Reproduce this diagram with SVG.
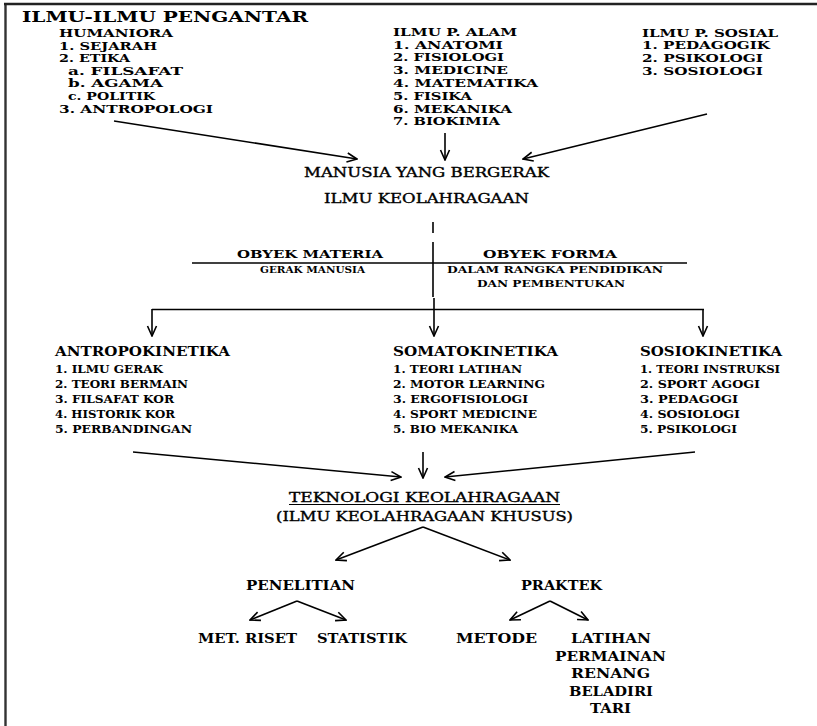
<svg xmlns="http://www.w3.org/2000/svg" width="817" height="726" viewBox="0 0 817 726">
  <style>
    text { font-family: "DejaVu Serif", "Liberation Serif", serif; fill: #000; }
    .b { font-weight: bold; }
    .m { font-weight: normal; stroke: #000; stroke-width: 0.35; }
    .t { font-size: 15px; }
    .k { font-size: 11.2px; }
    .l { font-size: 12px; }
    .h { font-size: 13px; }
    .s { font-size: 10.5px; }
    .xs { font-size: 9.5px; }
    .ln { stroke: #000; fill: none; stroke-width: 1.6; }
    .arr { stroke: #000; fill: none; stroke-width: 1.6; marker-end: url(#ah); }
  </style>
  <defs>
    <marker id="ah" viewBox="0 0 12 12" refX="11" refY="6" markerWidth="12" markerHeight="12" orient="auto" markerUnits="userSpaceOnUse">
      <path d="M1,1.5 L11,6 L1,10.5" fill="none" stroke="#000" stroke-width="1.6"/>
    </marker>
  </defs>

  <rect width="817" height="726" fill="#fff"/>

  <!-- page frame: left and top rules -->
  <g id="frame">
    <line x1="5.5" y1="3" x2="5.5" y2="726" stroke="#333" stroke-width="2.4"/>
    <line x1="4" y1="4" x2="817" y2="4" stroke="#222" stroke-width="2.6"/>
  </g>

  <g id="title">
    <text class="b t" x="22" y="22" textLength="286" lengthAdjust="spacingAndGlyphs">ILMU-ILMU PENGANTAR</text>
  </g>

  <g id="humaniora">
    <text class="b k" x="59" y="37" textLength="114" lengthAdjust="spacingAndGlyphs">HUMANIORA</text>
    <text class="b k" x="59" y="49.5" textLength="98" lengthAdjust="spacingAndGlyphs">1. SEJARAH</text>
    <text class="b k" x="59" y="62" textLength="71" lengthAdjust="spacingAndGlyphs">2. ETIKA</text>
    <text class="b k" x="68" y="74.5" textLength="115" lengthAdjust="spacingAndGlyphs">a. FILSAFAT</text>
    <text class="b k" x="68" y="87" textLength="95" lengthAdjust="spacingAndGlyphs">b. AGAMA</text>
    <text class="b k" x="68" y="99.5" textLength="87" lengthAdjust="spacingAndGlyphs">c. POLITIK</text>
    <text class="b k" x="59" y="113" textLength="154" lengthAdjust="spacingAndGlyphs">3. ANTROPOLOGI</text>
  </g>

  <g id="ilmu-alam">
    <text class="b k" x="393" y="36" textLength="124" lengthAdjust="spacingAndGlyphs">ILMU P. ALAM</text>
    <text class="b k" x="393" y="48.5" textLength="110" lengthAdjust="spacingAndGlyphs">1. ANATOMI</text>
    <text class="b k" x="393" y="61" textLength="111" lengthAdjust="spacingAndGlyphs">2. FISIOLOGI</text>
    <text class="b k" x="393" y="74" textLength="115" lengthAdjust="spacingAndGlyphs">3. MEDICINE</text>
    <text class="b k" x="393" y="87" textLength="145" lengthAdjust="spacingAndGlyphs">4. MATEMATIKA</text>
    <text class="b k" x="393" y="100" textLength="79" lengthAdjust="spacingAndGlyphs">5. FISIKA</text>
    <text class="b k" x="393" y="112.5" textLength="119" lengthAdjust="spacingAndGlyphs">6. MEKANIKA</text>
    <text class="b k" x="393" y="125" textLength="107" lengthAdjust="spacingAndGlyphs">7. BIOKIMIA</text>
  </g>

  <g id="ilmu-sosial">
    <text class="b k" x="642" y="36.5" textLength="136" lengthAdjust="spacingAndGlyphs">ILMU P. SOSIAL</text>
    <text class="b k" x="642" y="49" textLength="128" lengthAdjust="spacingAndGlyphs">1. PEDAGOGIK</text>
    <text class="b k" x="642" y="62" textLength="121" lengthAdjust="spacingAndGlyphs">2. PSIKOLOGI</text>
    <text class="b k" x="642" y="74.5" textLength="121" lengthAdjust="spacingAndGlyphs">3. SOSIOLOGI</text>
  </g>

  <g id="manusia">
    <text class="m l" x="304" y="177" textLength="245" lengthAdjust="spacingAndGlyphs">MANUSIA YANG BERGERAK</text>
  </g>

  <g id="ilmu-keolahragaan">
    <text class="m l" x="324" y="203" textLength="205" lengthAdjust="spacingAndGlyphs">ILMU KEOLAHRAGAAN</text>
  </g>

  <g id="obyek-materia">
    <text class="b s" x="237" y="258" textLength="146" lengthAdjust="spacingAndGlyphs">OBYEK MATERIA</text>
    <text class="b xs" x="260" y="272.5" textLength="105" lengthAdjust="spacingAndGlyphs">GERAK MANUSIA</text>
  </g>

  <g id="obyek-forma">
    <text class="b s" x="483" y="258" textLength="134" lengthAdjust="spacingAndGlyphs">OBYEK FORMA</text>
    <text class="b xs" x="447" y="272.5" textLength="216" lengthAdjust="spacingAndGlyphs">DALAM RANGKA PENDIDIKAN</text>
    <text class="b xs" x="477" y="287" textLength="148" lengthAdjust="spacingAndGlyphs">DAN PEMBENTUKAN</text>
  </g>

  <g id="antropokinetika">
    <text class="b h" x="55" y="356" textLength="175" lengthAdjust="spacingAndGlyphs">ANTROPOKINETIKA</text>
    <text class="b s" x="55" y="372.5" textLength="108" lengthAdjust="spacingAndGlyphs">1. ILMU GERAK</text>
    <text class="b s" x="55" y="387.5" textLength="133" lengthAdjust="spacingAndGlyphs">2. TEORI BERMAIN</text>
    <text class="b s" x="55" y="402.5" textLength="119" lengthAdjust="spacingAndGlyphs">3. FILSAFAT KOR</text>
    <text class="b s" x="55" y="417.5" textLength="120" lengthAdjust="spacingAndGlyphs">4. HISTORIK KOR</text>
    <text class="b s" x="55" y="433" textLength="137" lengthAdjust="spacingAndGlyphs">5. PERBANDINGAN</text>
  </g>

  <g id="somatokinetika">
    <text class="b h" x="393" y="356" textLength="165" lengthAdjust="spacingAndGlyphs">SOMATOKINETIKA</text>
    <text class="b s" x="393" y="372.5" textLength="129" lengthAdjust="spacingAndGlyphs">1. TEORI LATIHAN</text>
    <text class="b s" x="393" y="387.5" textLength="152" lengthAdjust="spacingAndGlyphs">2. MOTOR LEARNING</text>
    <text class="b s" x="393" y="402.5" textLength="135" lengthAdjust="spacingAndGlyphs">3. ERGOFISIOLOGI</text>
    <text class="b s" x="393" y="417.5" textLength="144" lengthAdjust="spacingAndGlyphs">4. SPORT MEDICINE</text>
    <text class="b s" x="393" y="433" textLength="125" lengthAdjust="spacingAndGlyphs">5. BIO MEKANIKA</text>
  </g>

  <g id="sosiokinetika">
    <text class="b h" x="640" y="356" textLength="142" lengthAdjust="spacingAndGlyphs">SOSIOKINETIKA</text>
    <text class="b s" x="640" y="372.5" textLength="140" lengthAdjust="spacingAndGlyphs">1. TEORI INSTRUKSI</text>
    <text class="b s" x="640" y="387.5" textLength="120" lengthAdjust="spacingAndGlyphs">2. SPORT AGOGI</text>
    <text class="b s" x="640" y="402.5" textLength="98" lengthAdjust="spacingAndGlyphs">3. PEDAGOGI</text>
    <text class="b s" x="640" y="417.5" textLength="100" lengthAdjust="spacingAndGlyphs">4. SOSIOLOGI</text>
    <text class="b s" x="640" y="433" textLength="97" lengthAdjust="spacingAndGlyphs">5. PSIKOLOGI</text>
  </g>

  <g id="teknologi">
    <text class="m l" x="289" y="502" textLength="271" lengthAdjust="spacingAndGlyphs">TEKNOLOGI KEOLAHRAGAAN</text>
    <line x1="289" y1="504.5" x2="560" y2="504.5" stroke="#000" stroke-width="1"/>
    <text class="m l" x="276" y="521" textLength="297" lengthAdjust="spacingAndGlyphs">(ILMU KEOLAHRAGAAN KHUSUS)</text>
  </g>

  <g id="penelitian">
    <text class="b l" x="246" y="590" textLength="109" lengthAdjust="spacingAndGlyphs">PENELITIAN</text>
  </g>
  <g id="praktek">
    <text class="b l" x="521" y="590" textLength="81" lengthAdjust="spacingAndGlyphs">PRAKTEK</text>
  </g>
  <g id="met-riset">
    <text class="b h" x="198" y="643" textLength="99" lengthAdjust="spacingAndGlyphs">MET. RISET</text>
  </g>
  <g id="statistik">
    <text class="b h" x="317" y="643" textLength="90" lengthAdjust="spacingAndGlyphs">STATISTIK</text>
  </g>
  <g id="metode">
    <text class="b h" x="456" y="643" textLength="81" lengthAdjust="spacingAndGlyphs">METODE</text>
  </g>
  <g id="latihan">
    <text class="b h" x="571" y="643" textLength="80" lengthAdjust="spacingAndGlyphs">LATIHAN</text>
    <text class="b h" x="555" y="660.5" textLength="111" lengthAdjust="spacingAndGlyphs">PERMAINAN</text>
    <text class="b h" x="571" y="678" textLength="79" lengthAdjust="spacingAndGlyphs">RENANG</text>
    <text class="b h" x="569" y="695.5" textLength="84" lengthAdjust="spacingAndGlyphs">BELADIRI</text>
    <text class="b h" x="590" y="713" textLength="41" lengthAdjust="spacingAndGlyphs">TARI</text>
  </g>

  <g id="connectors">
    <!-- into MANUSIA YANG BERGERAK -->
    <line class="arr" x1="114" y1="121" x2="357" y2="159"/>
    <line class="arr" x1="445" y1="133" x2="445" y2="160"/>
    <line class="arr" x1="707" y1="114" x2="523" y2="159"/>
    <!-- dashed divider between the two objects -->
    <line class="ln" x1="433" y1="222" x2="433" y2="233" stroke-width="2"/>
    <line class="ln" x1="433" y1="242" x2="433" y2="297" stroke-width="2"/>
    <line class="ln" x1="192" y1="263" x2="687" y2="263" stroke-width="1.3"/>
    <!-- branching bar to the three kinetics -->
    <line class="ln" x1="152" y1="309.5" x2="704" y2="309.5" stroke-width="1.6"/>
    <line class="arr" x1="152" y1="309" x2="152" y2="336"/>
    <line class="arr" x1="434" y1="298" x2="434" y2="336"/>
    <line class="arr" x1="703" y1="309" x2="703" y2="336"/>
    <!-- into TEKNOLOGI KEOLAHRAGAAN -->
    <line class="arr" x1="133" y1="452" x2="401" y2="477"/>
    <line class="arr" x1="423" y1="452" x2="423" y2="478"/>
    <line class="arr" x1="695" y1="452" x2="445" y2="477"/>
    <!-- fork to PENELITIAN / PRAKTEK -->
    <line class="arr" x1="423" y1="527" x2="336" y2="560"/>
    <line class="arr" x1="423" y1="527" x2="510" y2="560"/>
    <!-- fork under PENELITIAN -->
    <line class="arr" x1="297" y1="601" x2="250" y2="620"/>
    <line class="arr" x1="297" y1="601" x2="346" y2="620"/>
    <!-- fork under PRAKTEK -->
    <line class="arr" x1="550" y1="601" x2="510" y2="620"/>
    <line class="arr" x1="550" y1="601" x2="588" y2="620"/>
  </g>
</svg>
